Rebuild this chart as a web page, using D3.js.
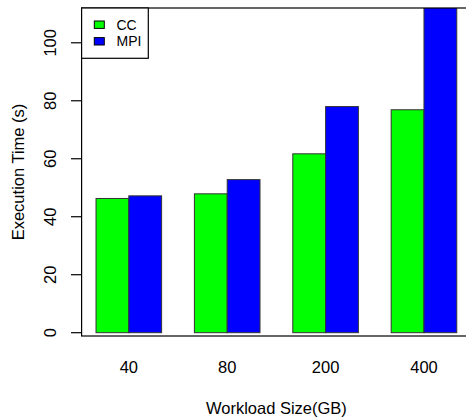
<!DOCTYPE html>
<html>
<head>
<meta charset="utf-8">
<script src="https://cdn.jsdelivr.net/npm/d3@7"></script>
<style>
  html, body { margin: 0; padding: 0; background: #fff; }
  svg { display: block; }
  text { font-family: "Liberation Sans", Arial, Helvetica, sans-serif; fill: #000; }
</style>
</head>
<body>
<svg id="chart" width="466" height="419"></svg>
<script>
// ---- data ----
const categories = ["40", "80", "200", "400"];
const seriesNames = ["CC", "MPI"];
const ccValues = [46.3, 47.9, 61.7, 76.9];
const mpiValues = [47.2, 52.8, 78.0, 115];
const yTicks = [0, 20, 40, 60, 80, 100];
const seriesColors = ["#00ff00", "#0000ff"];
const xTitle = "Workload Size(GB)";
const yTitle = "Execution Time (s)";

// ---- layout ----
const W = 466, H = 419;
const plotLeft = 81.6, plotRight = 471.2, plotTop = 8, plotBottom = 336;
const yLo = -1.14, yHi = 112;
const fs = 16.5;

const svg = d3.select("#chart");

const x0 = d3.scaleBand()
  .domain(categories)
  .range([plotLeft, plotRight])
  .paddingInner(1 / 3)
  .paddingOuter(0.44 / 3);

const x1 = d3.scaleBand()
  .domain(seriesNames)
  .range([0, x0.bandwidth()])
  .padding(0);

const y = d3.scaleLinear().domain([yLo, yHi]).range([plotBottom, plotTop]);

const color = d3.scaleOrdinal().domain(seriesNames).range(seriesColors);

const rows = categories.map((c, i) => ({ cat: c, vals: [
  { s: "CC", v: ccValues[i] }, { s: "MPI", v: mpiValues[i] }
]}));

// clip to the plot region
svg.append("defs").append("clipPath").attr("id", "plotclip")
  .append("rect")
  .attr("x", plotLeft).attr("y", plotTop)
  .attr("width", plotRight - plotLeft).attr("height", plotBottom - plotTop);

const bars = svg.append("g").attr("clip-path", "url(#plotclip)");
bars.selectAll("g.grp").data(rows).join("g")
  .attr("class", "grp")
  .attr("transform", d => `translate(${x0(d.cat)},0)`)
  .selectAll("rect").data(d => d.vals).join("rect")
  .attr("x", d => x1(d.s))
  .attr("width", x1.bandwidth())
  .attr("y", d => y(d.v))
  .attr("height", d => y(0) - y(d.v))
  .attr("fill", d => color(d.s))
  .attr("stroke", "#333")
  .attr("stroke-width", 1);

// frame (right side lies outside the window)
svg.append("rect")
  .attr("x", plotLeft).attr("y", plotTop)
  .attr("width", plotRight - plotLeft).attr("height", plotBottom - plotTop)
  .attr("fill", "none").attr("stroke", "#000").attr("stroke-width", 1.2);

// y axis ticks
const yAxis = svg.append("g");
yAxis.selectAll("line").data(yTicks).join("line")
  .attr("x1", plotLeft - 10.6).attr("x2", plotLeft)
  .attr("y1", d => y(d)).attr("y2", d => y(d))
  .attr("stroke", "#000").attr("stroke-width", 1.2);
yAxis.selectAll("text").data(yTicks).join("text")
  .attr("transform", d => `translate(${plotLeft - 25.4},${y(d)}) rotate(-90)`)
  .attr("text-anchor", "middle")
  .attr("font-size", fs)
  .text(d => d);

// x category labels
svg.append("g").selectAll("text").data(categories).join("text")
  .attr("x", d => x0(d) + x0.bandwidth() / 2)
  .attr("y", 373)
  .attr("text-anchor", "middle")
  .attr("font-size", fs)
  .text(d => d);

// axis titles
svg.append("text")
  .attr("x", (plotLeft + plotRight) / 2)
  .attr("y", 414)
  .attr("text-anchor", "middle")
  .attr("font-size", fs)
  .text(xTitle);

svg.append("text")
  .attr("transform", `translate(24,${(plotTop + plotBottom) / 2}) rotate(-90)`)
  .attr("text-anchor", "middle")
  .attr("font-size", fs)
  .text(yTitle);

// legend
const lg = svg.append("g");
lg.append("rect")
  .attr("x", plotLeft).attr("y", plotTop)
  .attr("width", 66.7).attr("height", 50.3)
  .attr("fill", "#fff").attr("stroke", "#000").attr("stroke-width", 1.2);
const items = lg.selectAll("g.item").data(seriesNames).join("g")
  .attr("class", "item")
  .attr("transform", (d, i) => `translate(0,${24.7 + i * 16.6})`);
items.append("rect")
  .attr("x", 94.3).attr("y", -3.7)
  .attr("width", 10).attr("height", 7.4)
  .attr("fill", d => color(d)).attr("stroke", "#000").attr("stroke-width", 1);
items.append("text")
  .attr("x", 116.5).attr("y", 0)
  .attr("dy", "0.36em")
  .attr("font-size", 14)
  .text(d => d);
</script>
</body>
</html>
